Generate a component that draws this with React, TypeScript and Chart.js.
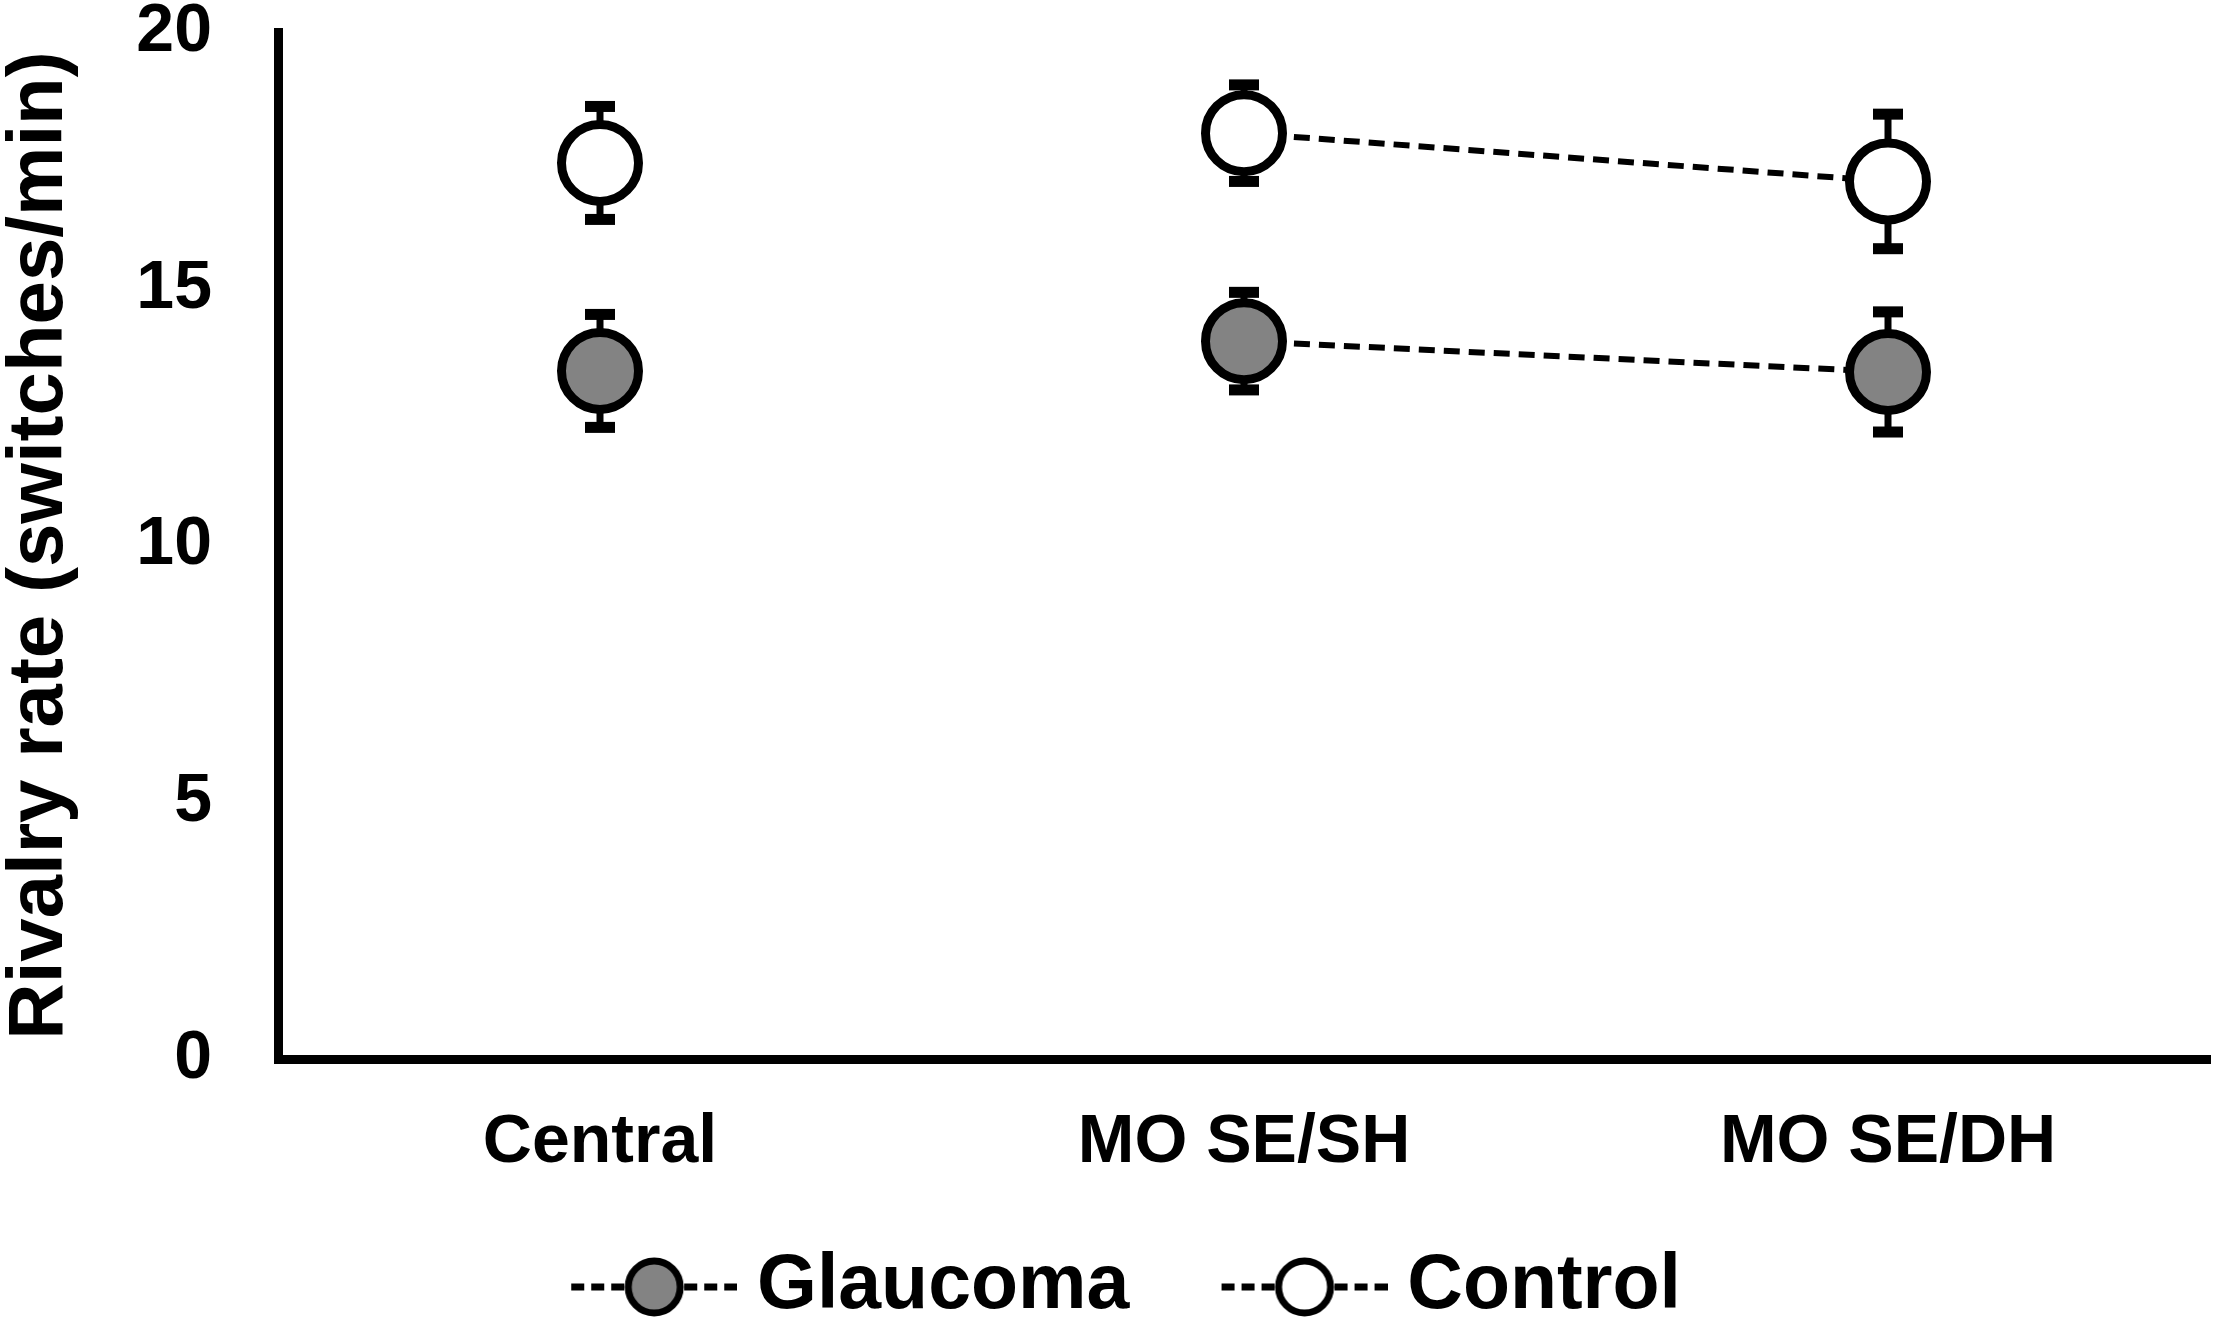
import { useEffect, useRef } from 'react'
import { Chart, registerables } from 'chart.js'

Chart.register(...registerables)

// values
const categories = ['Central', 'MO SE/SH', 'MO SE/DH']
const glaucomaMean = [13.4, 13.98, 13.38]
const glaucomaErr = [1.1, 0.95, 1.17]
const controlMean = [17.45, 18.03, 17.09]
const controlErr = [1.1, 0.94, 1.31]
const yTicks = [0, 5, 10, 15, 20]

const FONT = '"Liberation Sans", Arial, Helvetica, sans-serif'
const GREY = '#838383'

// "--O--" symbol for the legend, drawn at the right end of a wider canvas
function legendSymbol(fill: string) {
  const c = document.createElement('canvas')
  c.width = 217
  c.height = 70
  const ctx = c.getContext('2d')!
  const sx = 51
  const cy = 35
  ctx.strokeStyle = '#000'
  ctx.lineWidth = 7
  ctx.setLineDash([13, 7])
  ctx.beginPath()
  ctx.moveTo(sx, cy)
  ctx.lineTo(sx + 60, cy)
  ctx.moveTo(sx + 166, cy)
  ctx.lineTo(sx + 106, cy)
  ctx.stroke()
  ctx.setLineDash([])
  ctx.beginPath()
  ctx.arc(sx + 83, cy, 26, 0, Math.PI * 2)
  ctx.fillStyle = fill
  ctx.fill()
  ctx.stroke()
  return c
}

const errorBars = {
  id: 'errorBars',
  beforeDatasetsDraw(chart: any) {
    const { ctx } = chart
    const y = chart.scales.y
    chart.data.datasets.forEach((ds: any, i: number) => {
      const meta = chart.getDatasetMeta(i)
      meta.data.forEach((pt: any, j: number) => {
        const v = ds.data[j]
        const e = ds.errors[j]
        const top = y.getPixelForValue(v + e)
        const bot = y.getPixelForValue(v - e)
        ctx.save()
        ctx.strokeStyle = '#000'
        ctx.fillStyle = '#000'
        ctx.lineWidth = 7
        ctx.beginPath()
        ctx.moveTo(pt.x, top)
        ctx.lineTo(pt.x, bot)
        ctx.stroke()
        ctx.fillRect(pt.x - 15, top - 5.5, 30, 11)
        ctx.fillRect(pt.x - 15, bot - 5.5, 30, 11)
        ctx.restore()
      })
    })
  },
}

export default function App() {
  const canvasRef = useRef<HTMLCanvasElement>(null)
  const chartRef = useRef<Chart | null>(null)

  useEffect(() => {
    if (!canvasRef.current) return
    if (chartRef.current) chartRef.current.destroy()
    const ctx = canvasRef.current.getContext('2d')
    if (!ctx) return

    const symbols = [legendSymbol(GREY), legendSymbol('#fff')]
    // the Central point is not joined to the others
    const hideFirst = (c: any) => (c.p0DataIndex === 0 ? 'rgba(0,0,0,0)' : '#000')

    const series = (label: string, data: number[], errors: number[], fill: string) => ({
      label,
      data,
      errors,
      borderColor: '#000',
      borderWidth: 6,
      borderDash: [16, 9],
      segment: { borderColor: hideFirst },
      pointRadius: 38.5,
      pointHoverRadius: 38.5,
      pointBorderWidth: 9,
      pointBackgroundColor: fill,
      pointBorderColor: '#000',
      fill: false,
      tension: 0,
    })

    chartRef.current = new Chart(ctx, {
      type: 'line',
      data: {
        labels: categories,
        datasets: [
          series('Glaucoma', glaucomaMean, glaucomaErr, GREY),
          series('Control', controlMean, controlErr, '#fff'),
        ] as any,
      },
      plugins: [errorBars],
      options: {
        animation: false,
        responsive: true,
        maintainAspectRatio: false,
        events: [],
        layout: { autoPadding: false, padding: { top: 32, left: 10, right: 7, bottom: -15.5 } },
        plugins: {
          tooltip: { enabled: false },
          legend: {
            display: true,
            position: 'bottom',
            labels: {
              usePointStyle: true,
              pointStyleWidth: 179.5,
              padding: 60,
              color: '#000',
              font: { family: FONT, size: 77, weight: 'bold' },
              generateLabels: (chart: any) =>
                chart.data.datasets.map((ds: any, i: number) => ({
                  text: ds.label,
                  pointStyle: symbols[i],
                  fillStyle: '#000',
                  strokeStyle: '#000',
                  lineWidth: 0,
                  hidden: false,
                  datasetIndex: i,
                  fontColor: '#000',
                })),
            },
          },
        },
        scales: {
          x: {
            type: 'category',
            offset: true,
            grid: { display: false, drawTicks: false },
            border: { display: true, color: '#000', width: 9 },
            ticks: {
              color: '#000',
              padding: 43,
              maxRotation: 0,
              font: { family: FONT, size: 68, weight: 'bold' },
            },
            afterFit: (scale: any) => {
              const legendH = scale.chart.legend ? scale.chart.legend.height : 147
              scale.height = 261 + 15.5 - legendH
              scale.paddingLeft = 0
              scale.paddingRight = 0
            },
          },
          y: {
            min: 0,
            max: 20,
            grid: { display: false, drawTicks: false },
            border: { display: true, color: '#000', width: 9 },
            afterBuildTicks: (scale: any) => {
              scale.ticks = yTicks.map((value) => ({ value }))
            },
            ticks: {
              color: '#000',
              padding: 66,
              font: { family: FONT, size: 68, weight: 'bold' },
            },
            title: {
              display: true,
              text: 'Rivalry rate (switches/min)',
              color: '#000',
              font: { family: FONT, size: 78, weight: 'bold', lineHeight: 1 },
              padding: { top: -9, bottom: 0 },
            },
            afterFit: (scale: any) => {
              scale.width = 268
              scale.paddingTop = 0
              scale.paddingBottom = 0
            },
          },
        },
      } as any,
    })

    return () => {
      if (chartRef.current) {
        chartRef.current.destroy()
        chartRef.current = null
      }
    }
  }, [])

  return (
    <div style={{ position: 'fixed', left: 0, top: 0, width: '100vw', height: '100vh', background: '#fff' }}>
      <canvas ref={canvasRef} />
    </div>
  )
}
